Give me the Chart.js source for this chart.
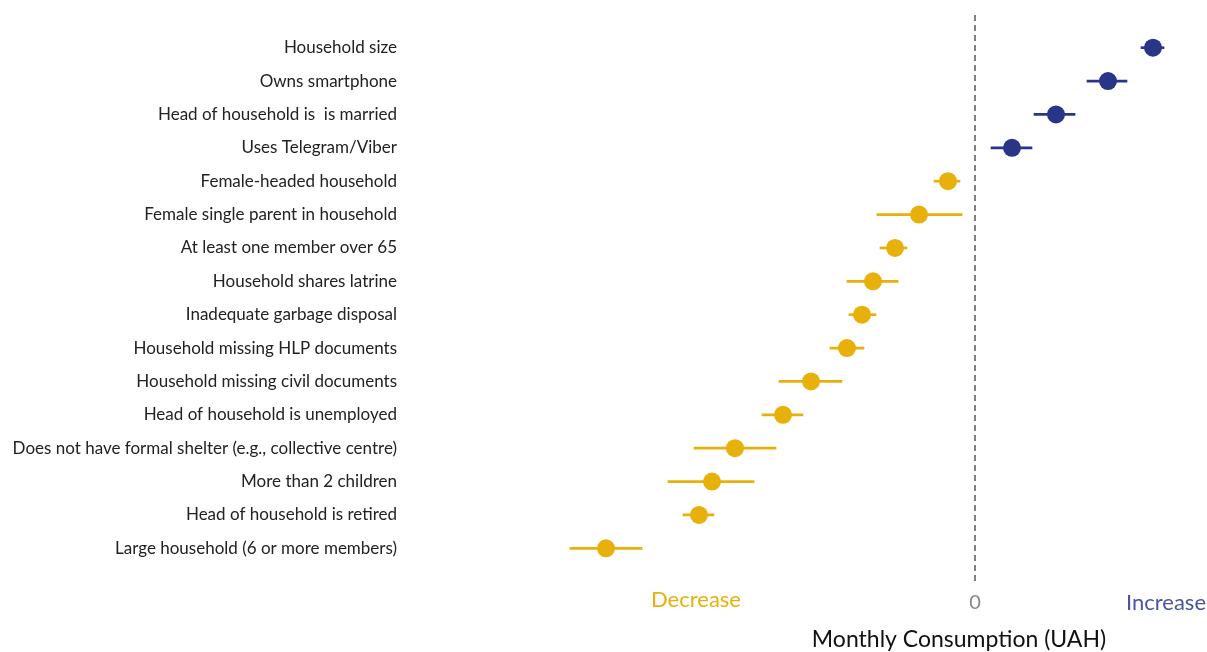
<!DOCTYPE html>
<html>
<head>
<meta charset="utf-8">
<script src="https://cdn.jsdelivr.net/npm/chart.js@4/dist/chart.umd.min.js"></script>
<style>
  body { margin: 0; background: #fff; }
  #wrap { width: 1207px; height: 652px; position: relative; }
</style>
</head>
<body>
<div id="wrap"><canvas id="forest"></canvas></div>
<script>
// categories (top to bottom)
const factors = [
    'Household size',
    'Owns smartphone',
    'Head of household is  is married',
    'Uses Telegram/Viber',
    'Female-headed household',
    'Female single parent in household',
    'At least one member over 65',
    'Household shares latrine',
    'Inadequate garbage disposal',
    'Household missing HLP documents',
    'Household missing civil documents',
    'Head of household is unemployed',
    'Does not have formal shelter (e.g., collective centre)',
    'More than 2 children',
    'Head of household is retired',
    'Large household (6 or more members)'
];
// estimated effect on monthly consumption (UAH) and interval ends
const estimate = [178, 133, 81, 37, -27, -56, -80, -102, -113, -128, -164, -192, -240, -263, -276, -369];
const lower    = [166, 112, 59, 16, -41, -98, -95, -128, -126, -145, -196, -213, -281, -307, -292, -405];
const upper    = [189, 152, 100, 57, -15, -13, -68, -77, -99, -111, -133, -172, -199, -221, -261, -333];

const blue = '#283589';
const gold = '#e8b00b';
const pointColors = estimate.map(v => v >= 0 ? blue : gold);
const fontFam = 'Lato, "Open Sans", sans-serif';

// dashed zero line + side captions + axis title
const extras = {
    id: 'extras',
    afterDatasetsDraw(chart) {
        const ctx = chart.ctx;
        const x = chart.scales.x;
        const zero = x.getPixelForValue(0);
        ctx.save();
        ctx.strokeStyle = '#808080';
        ctx.lineWidth = 2;
        ctx.setLineDash([6, 4]);
        ctx.beginPath();
        ctx.moveTo(zero, 15);
        ctx.lineTo(zero, 582);
        ctx.stroke();
        ctx.setLineDash([]);

        ctx.textBaseline = 'middle';
        ctx.textAlign = 'center';
        ctx.font = '22px ' + fontFam;
        ctx.fillStyle = gold;
        ctx.fillText('Decrease', x.getPixelForValue(-279), 600);
        ctx.fillStyle = '#4a55a2';
        ctx.fillText('Increase', x.getPixelForValue(191), 603);

        ctx.font = '23px ' + fontFam;
        ctx.fillStyle = '#111';
        ctx.fillText('Monthly Consumption (UAH)', x.getPixelForValue(-16), 640);
        ctx.restore();
    }
};

const ctx = document.getElementById('forest').getContext('2d');
const forestChart = new Chart(ctx, {
    type: 'bar',
    data: {
        labels: factors,
        datasets: [{
            // confidence intervals as thin floating bars
            type: 'bar',
            data: lower.map((lo, i) => [lo, upper[i]]),
            backgroundColor: pointColors,
            barThickness: 2,
            order: 2
        }, {
            type: 'line',
            data: estimate,
            showLine: false,
            pointRadius: 9,
            pointHoverRadius: 9,
            pointBackgroundColor: pointColors,
            pointBorderWidth: 0,
            order: 1
        }]
    },
    options: {
        indexAxis: 'y',
        responsive: true,
        maintainAspectRatio: false,
        animation: false,
        layout: { padding: { top: 31, right: 0, left: 0, bottom: 0 } },
        plugins: {
            legend: { display: false },
            tooltip: { enabled: false }
        },
        scales: {
            x: {
                min: -570,
                max: 223,
                grid: { display: false },
                border: { display: false },
                afterBuildTicks: scale => { scale.ticks = [{ value: 0 }]; },
                afterFit: scale => { scale.height = 87; },
                ticks: {
                    padding: 18,
                    color: '#888',
                    font: { family: fontFam, size: 20 }
                }
            },
            y: {
                grid: { display: false },
                border: { display: false },
                afterFit: scale => { scale.width = 405; },
                ticks: {
                    padding: 0,
                    color: '#222',
                    font: { family: fontFam, size: 17 }
                }
            }
        }
    },
    plugins: [extras]
});
</script>
</body>
</html>
